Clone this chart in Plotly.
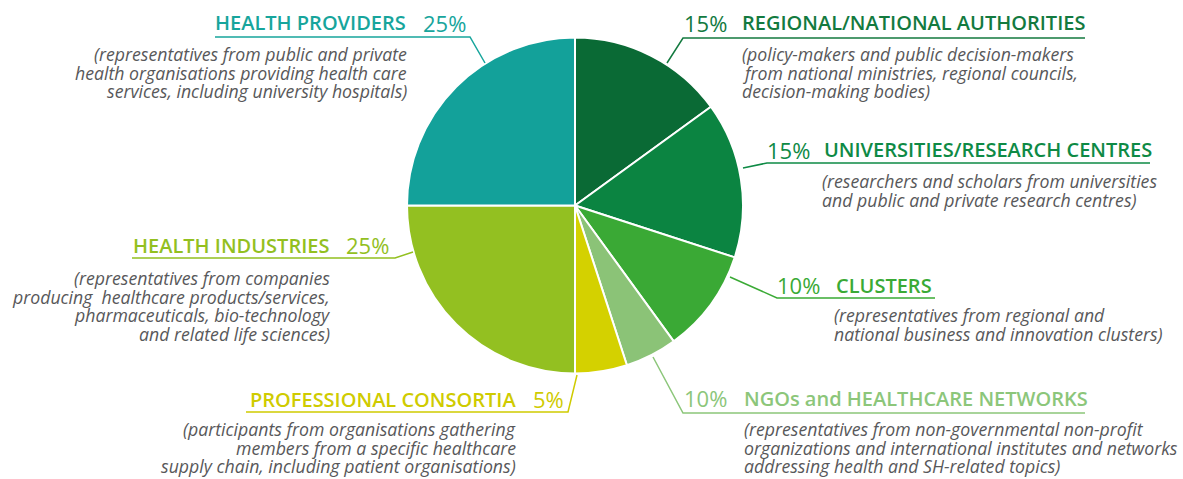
import plotly.graph_objects as go

W, H = 1183, 479

# ---- data ----
categories = ["REGIONAL/NATIONAL AUTHORITIES", "UNIVERSITIES/RESEARCH CENTRES", "CLUSTERS",
              "NGOs and HEALTHCARE NETWORKS", "PROFESSIONAL CONSORTIA", "HEALTH INDUSTRIES",
              "HEALTH PROVIDERS"]
slice_values = [15, 15, 10, 5, 5, 25, 25]
label_pcts = ["15%", "15%", "10%", "10%", "5%", "25%", "25%"]
descriptions = [
    ["(policy-makers and public decision-makers", "from national ministries, regional councils,",
     "decision-making bodies)"],
    ["(researchers and scholars from universities", "and public and private research centres)"],
    ["(representatives from regional and", "national business and innovation clusters)"],
    ["(representatives from non-governmental non-profit",
     "organizations and international institutes and networks",
     "addressing health and SH-related topics)"],
    ["(participants from organisations gathering", "members from a specific healthcare",
     "supply chain, including patient organisations)"],
    ["(representatives from companies", "producing&nbsp; healthcare products/services,",
     "pharmaceuticals, bio-technology", "and related life sciences)"],
    ["(representatives from public and private", "health organisations providing health care",
     "services, including university hospitals)"],
]
slice_colors = ["#0a6a35", "#0b8441", "#3aa935", "#8bc377", "#d4d100", "#93c021", "#13a19a"]
text_colors = ["#137a3f", "#0e8a45", "#3aaa35", "#8cc67a", "#cfcb00", "#93c01f", "#17a59c"]

# ---- layout (pixel positions) ----
CX, CY, R = 575, 205.5, 168
LINE_GAP = 18.5
layout_pos = [
    dict(side="R", pct_x=685, name_x=743, ty=23, desc_x=743, desc_y0=54,
         leader=[(667, 63), (683, 38), (1085, 38)]),
    dict(side="R", pct_x=768, name_x=825, ty=150, desc_x=823, desc_y0=181,
         leader=[(743, 168), (767, 163), (1150, 163)]),
    dict(side="R", pct_x=778, name_x=837, ty=285, desc_x=835, desc_y0=315,
         leader=[(730, 277), (777, 298), (935, 298)]),
    dict(side="R", pct_x=685, name_x=745, ty=398, desc_x=745, desc_y0=429,
         leader=[(653, 357), (683, 413), (1085, 413)]),
    dict(side="L", pct_x=563, name_x=515, ty=399, desc_x=515, desc_y0=429,
         leader=[(577, 375), (568, 412), (246, 412)]),
    dict(side="L", pct_x=388, name_x=328, ty=245, desc_x=329, desc_y0=278,
         leader=[(413, 252), (395, 258), (132, 258)]),
    dict(side="L", pct_x=465, name_x=405, ty=23, desc_x=406, desc_y0=54,
         leader=[(485, 63), (470, 37), (215, 37)]),
]
PAD = 3  # annotation inner padding compensation


def px(x):
    return x / W


def py(y):
    return 1 - y / H


FONT = "Open Sans"
DESC_COLOR = "#58585a"

fig = go.Figure(go.Pie(
    labels=categories,
    values=slice_values,
    sort=False,
    direction="clockwise",
    rotation=0,
    textinfo="none",
    hoverinfo="label+percent",
    marker=dict(colors=slice_colors, line=dict(color="white", width=2)),
    domain=dict(x=[px(CX - R), px(CX + R)], y=[py(CY + R), py(CY - R)]),
    showlegend=False,
))

shapes = []
annotations = []
for i, pos in enumerate(layout_pos):
    col = text_colors[i]
    pts = pos["leader"]
    path = "M " + " L ".join(f"{px(x)},{py(y)}" for x, y in pts)
    shapes.append(dict(type="path", xref="paper", yref="paper", path=path,
                       line=dict(color=col, width=1.5)))
    left = pos["side"] == "R"
    anchor = "left" if left else "right"
    off = -PAD if left else PAD
    annotations.append(dict(
        x=px(pos["pct_x"] + off), y=py(pos["ty"]), xref="paper", yref="paper",
        text=label_pcts[i], showarrow=False, xanchor=anchor, yanchor="middle",
        font=dict(family=FONT, size=22, color=col)))
    annotations.append(dict(
        x=px(pos["name_x"] + off), y=py(pos["ty"]), xref="paper", yref="paper",
        text=f"<span style='font-weight:600'>{categories[i]}</span>", showarrow=False,
        xanchor=anchor, yanchor="middle",
        font=dict(family=FONT, size=20, color=col)))
    for k, line in enumerate(descriptions[i]):
        annotations.append(dict(
            x=px(pos["desc_x"] + off), y=py(pos["desc_y0"] + k * LINE_GAP),
            xref="paper", yref="paper",
            text=f"<i>{line}</i>", showarrow=False, align=anchor,
            xanchor=anchor, yanchor="middle",
            font=dict(family=FONT, size=17.7, color=DESC_COLOR)))

fig.update_layout(
    width=W, height=H,
    margin=dict(l=0, r=0, t=0, b=0),
    paper_bgcolor="white", plot_bgcolor="white",
    shapes=shapes, annotations=annotations,
)

fig.write_html("out.html")
